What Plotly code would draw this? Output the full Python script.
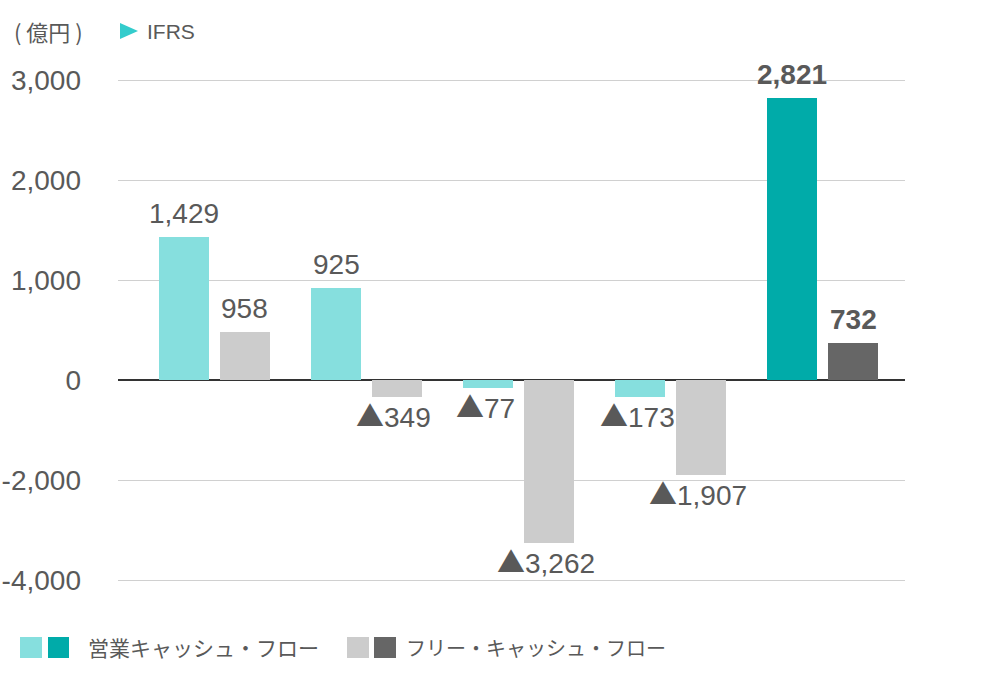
import plotly.graph_objects as go

# ---- data ----
periods = ["期1", "期2", "期3", "期4", "期5"]
operating_cf = [1429, 925, -77, -173, 2821]      # 営業キャッシュ・フロー
free_cf = [958, -349, -3262, -1907, 732]         # フリー・キャッシュ・フロー
tick_vals = [3000, 2000, 1000, 0, -1000, -2000]
tick_text = ["3,000", "2,000", "1,000", "0", "-2,000", "-4,000"]
highlight = [False, False, False, False, True]

# ---- style ----
TEAL_L, TEAL_D = "#86DFDE", "#00ABA9"
GRAY_L, GRAY_D = "#CCCCCC", "#666666"
TXT = "#595959"
NUM_FONT = "Liberation Sans, Arial, sans-serif"
JP_FONT = "Noto Sans CJK JP, sans-serif"

W, H = 981, 678
ML, MR, MT, MB = 118, 76, 75, 93
PW, PH = W - ML - MR, H - MT - MB


def px_x(px):
    return (px - ML) / PW


def px_y(py):
    return (H - MB - py) / PH


TRI = "<span style=\"font-family:'Noto Sans CJK JP'\">▲</span>"


def fmt(v):
    return f"{v:,}" if v >= 0 else TRI + f"{-v:,}"


BW = 0.329
fig = go.Figure()
fig.add_trace(go.Bar(
    x=periods, y=operating_cf, yaxis="y", width=BW, offset=-0.2 - BW / 2,
    marker=dict(color=[TEAL_D if h else TEAL_L for h in highlight], line_width=0),
    showlegend=False, hoverinfo="skip"))
fig.add_trace(go.Bar(
    x=periods, y=free_cf, yaxis="y2", width=BW, offset=0.2 - BW / 2,
    marker=dict(color=[GRAY_D if h else GRAY_L for h in highlight], line_width=0),
    showlegend=False, hoverinfo="skip"))

annotations = []
for series, yref, xs in ((operating_cf, "y", -30.4), (free_cf, "y2", 30.4)):
    for p, v, h in zip(periods, series, highlight):
        txt = fmt(v)
        if h:
            txt = f"<b>{txt}</b>"
        annotations.append(dict(
            x=p, y=v, xref="x", yref=yref, text=txt, showarrow=False,
            xshift=xs - (3 if v < 0 else 0), yshift=6 if v >= 0 else 4,
            yanchor="bottom" if v >= 0 else "top", xanchor="center",
            font=dict(family=NUM_FONT, size=28, color=TXT)))

# header
annotations.append(dict(x=px_x(12), y=px_y(31), xref="paper", yref="paper",
                        text="( 億円 )", showarrow=False, xanchor="left", yanchor="middle",
                        font=dict(family=JP_FONT, size=22, color=TXT)))
annotations.append(dict(x=px_x(145), y=px_y(31), xref="paper", yref="paper",
                        text="IFRS", showarrow=False, xanchor="left", yanchor="middle",
                        font=dict(family=NUM_FONT, size=21, color=TXT)))
# legend texts
annotations.append(dict(x=px_x(86), y=px_y(647), xref="paper", yref="paper",
                        text="営業キャッシュ・フロー", showarrow=False, xanchor="left",
                        yanchor="middle", font=dict(family=JP_FONT, size=21, color=TXT)))
annotations.append(dict(x=px_x(404), y=px_y(647), xref="paper", yref="paper",
                        text="フリー・キャッシュ・フロー", showarrow=False, xanchor="left",
                        yanchor="middle", font=dict(family=JP_FONT, size=20, color=TXT)))

shapes = []
for (x0, x1), col in (((20, 42), TEAL_L), ((48, 69), TEAL_D),
                      ((347, 369), GRAY_L), ((374, 396), GRAY_D)):
    shapes.append(dict(type="rect", xref="paper", yref="paper",
                       x0=px_x(x0), x1=px_x(x1), y0=px_y(658), y1=px_y(637),
                       fillcolor=col, line_width=0))
# IFRS triangle marker
shapes.append(dict(type="path", xref="paper", yref="paper",
                   path=f"M {px_x(120)} {px_y(23)} L {px_x(120)} {px_y(39)} L {px_x(138)} {px_y(31)} Z",
                   fillcolor="#33CCCC", line_width=0))

fig.update_layout(
    width=W, height=H, margin=dict(l=ML, r=MR, t=MT, b=MB, autoexpand=False),
    paper_bgcolor="white", plot_bgcolor="white",
    xaxis=dict(type="category", range=[-0.634, 4.54], showticklabels=False,
               showgrid=False, zeroline=False, showline=False, ticks="",
               automargin=False),
    yaxis=dict(range=[-2050, 3050], tickvals=tick_vals, ticktext=tick_text,
               showgrid=True, gridcolor="#D0D0D0", gridwidth=1,
               zeroline=True, zerolinecolor="#333333", zerolinewidth=2,
               ticks="", ticklabelstandoff=36, automargin=False,
               tickfont=dict(family=NUM_FONT, size=28, color=TXT)),
    yaxis2=dict(range=[-4100, 6100], overlaying="y", showgrid=False,
                zeroline=False, showticklabels=False, ticks="", automargin=False),
    annotations=annotations, shapes=shapes, bargap=0,
)

fig.write_html("out.html")
